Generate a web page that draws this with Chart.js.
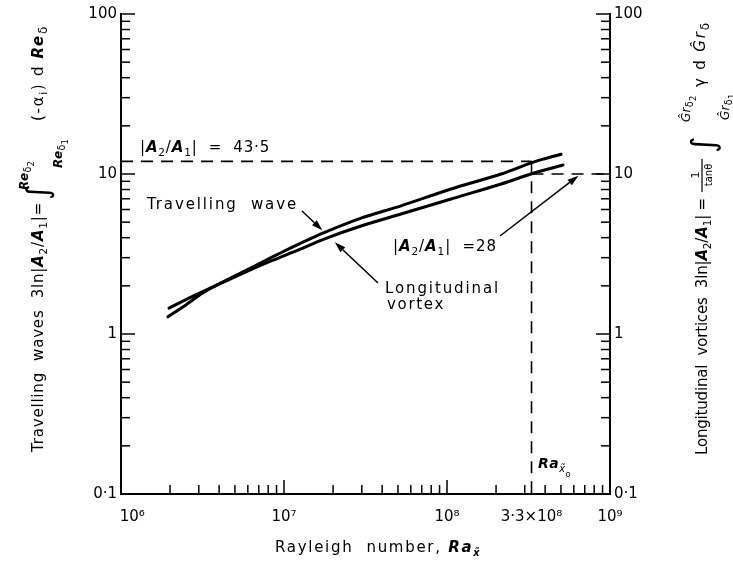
<!DOCTYPE html>
<html><head><meta charset="utf-8">
<script src="https://cdn.jsdelivr.net/npm/chart.js@4.4.1/dist/chart.umd.min.js"></script>
<style>html,body{margin:0;padding:0;background:#fff}canvas{display:block}</style>
</head><body>
<canvas id="c" width="733" height="567" style="width:733px;height:567px"></canvas>
<script>
// ---- data ----
const xTickValues = [1e6, 1e7, 1e8, 3.3e8, 1e9];
const xTickLabels = ['\u2002\u2002\u200210⁶', '10⁷', '10⁸', '3·3×10⁸', '10⁹'];
const yTickValues = [0.1, 1, 10, 100];
const yTickLabels = ['0·1', '1', '10', '100'];

const travellingX = [1.94e6, 2.50e6, 3.32e6, 5.45e6, 8.33e6, 1.10e7, 1.27e7, 1.76e7, 2.97e7, 5.22e7, 1.06e8, 2.15e8, 3.42e8, 5.01e8];
const travellingY = [1.28, 1.52, 1.86, 2.41, 3.00, 3.45, 3.70, 4.30, 5.30, 6.32, 8.06, 10.0, 11.9, 13.3];

const vortexX = [1.97e6, 2.69e6, 3.32e6, 5.45e6, 8.33e6, 1.10e7, 1.27e7, 1.76e7, 2.97e7, 5.22e7, 1.06e8, 2.15e8, 3.42e8, 5.15e8];
const vortexY = [1.45, 1.70, 1.88, 2.37, 2.86, 3.21, 3.40, 3.92, 4.73, 5.62, 6.98, 8.66, 10.15, 11.38];

const raX0 = 3.3e8;      // Ra_x0
const twLevel = 12;      // |A2/A1| = 43.5 level (as drawn)
const lvLevel = 10;      // |A2/A1| = 28 level
const xMin = 1e6, xMax = 1e9, yMin = 0.1, yMax = 100;

const F = '"DejaVu Sans", "Liberation Sans", sans-serif';

function pts(xs, ys) { return xs.map((x, i) => ({ x: x, y: ys[i] })); }

function measureRuns(ctx, list, size, sp) {
  let w = 0, n = 0;
  for (const r of list) {
    const s = (r.k || 1) * size;
    const st = r.bi ? 'italic bold ' : (r.i ? 'italic ' : '');
    ctx.font = st + s + 'px ' + F;
    ctx.letterSpacing = (r.ls !== undefined ? r.ls : sp) + 'px';
    w += ctx.measureText(r.t).width;
    n += [...r.t].length;
  }
  return { w, n };
}
function drawRuns(ctx, list, x, y, size, sp) {
  let cx = x;
  for (const r of list) {
    const s = (r.k || 1) * size;
    const st = r.bi ? 'italic bold ' : (r.i ? 'italic ' : '');
    ctx.font = st + s + 'px ' + F;
    ctx.letterSpacing = (r.ls !== undefined ? r.ls : sp) + 'px';
    ctx.fillText(r.t, cx, y + (r.dy || 0));
    cx += ctx.measureText(r.t).width;
  }
  ctx.letterSpacing = '0px';
  return cx - x;
}
function fitRuns(ctx, list, x, y, size, target) {
  ctx.letterSpacing = '0px';
  const m = measureRuns(ctx, list, size, 0);
  const sp = Math.max(-1, (target - m.w) / m.n);
  return drawRuns(ctx, list, x, y, size, sp);
}
function arrow(ctx, x1, y1, x2, y2) {
  const a = Math.atan2(y2 - y1, x2 - x1), L = 11, W = 3.5;
  ctx.beginPath(); ctx.moveTo(x1, y1);
  ctx.lineTo(x2 - L * Math.cos(a), y2 - L * Math.sin(a)); ctx.stroke();
  ctx.beginPath(); ctx.moveTo(x2, y2);
  ctx.lineTo(x2 - L * Math.cos(a) + W * Math.sin(a), y2 - L * Math.sin(a) - W * Math.cos(a));
  ctx.lineTo(x2 - L * Math.cos(a) - W * Math.sin(a), y2 - L * Math.sin(a) + W * Math.cos(a));
  ctx.closePath(); ctx.fill();
}

const decor = {
  id: 'decor',
  afterDraw(chart) {
    const ctx = chart.ctx;
    const xs = chart.scales.x, ys = chart.scales.y;
    const L = xs.left, R = xs.right, T = ys.top, B = ys.bottom;
    const X = v => xs.getPixelForValue(v), Y = v => ys.getPixelForValue(v);
    ctx.save();
    ctx.strokeStyle = '#000'; ctx.fillStyle = '#000';
    // frame (no top line)
    ctx.lineWidth = 2; ctx.lineCap = 'square';
    ctx.beginPath(); ctx.moveTo(L, T); ctx.lineTo(L, B); ctx.lineTo(R, B); ctx.lineTo(R, T); ctx.stroke();
    // inward log ticks
    ctx.lineWidth = 1.5; ctx.lineCap = 'butt';
    for (let e = 6; e <= 9; e++) for (let m = 1; m <= 9; m++) {
      const v = m * Math.pow(10, e); if (v > xMax * 1.0001) break;
      const p = X(v), len = m === 1 ? 14 : 9;
      ctx.beginPath(); ctx.moveTo(p, B); ctx.lineTo(p, B - len); ctx.stroke();
    }
    for (let e = -1; e <= 2; e++) for (let m = 1; m <= 9; m++) {
      const v = m * Math.pow(10, e); if (v > yMax * 1.0001) break;
      const p = Y(v), len = m === 1 ? 14 : 9;
      ctx.beginPath(); ctx.moveTo(L, p); ctx.lineTo(L + len, p); ctx.stroke();
      ctx.beginPath(); ctx.moveTo(R, p); ctx.lineTo(R - len, p); ctx.stroke();
    }

    ctx.textBaseline = 'alphabetic';
    // annotations
    fitRuns(ctx, [{ t: '|' }, { t: 'A', bi: 1 }, { t: '2', k: 0.7, dy: 4 }, { t: '/' }, { t: 'A', bi: 1 }, { t: '1', k: 0.7, dy: 4 }, { t: '|  =  43·5' }], 140, 152, 15, 130);
    fitRuns(ctx, [{ t: 'Travelling  wave' }], 147, 209, 15, 151);
    fitRuns(ctx, [{ t: 'Longitudinal' }], 385, 293, 15, 115);
    fitRuns(ctx, [{ t: 'vortex' }], 387, 309, 15, 58);
    fitRuns(ctx, [{ t: '|' }, { t: 'A', bi: 1 }, { t: '2', k: 0.7, dy: 4 }, { t: '/' }, { t: 'A', bi: 1 }, { t: '1', k: 0.7, dy: 4 }, { t: '|  =28' }], 393, 251, 15, 104);
    // Ra_x0 label
    drawRuns(ctx, [{ t: 'Ra', bi: 1 }, { t: 'x̃', i: 1, k: 0.7, dy: 4 }, { t: 'o', k: 0.6, dy: 9 }], 538, 468, 14, 0.5);

    // arrows
    ctx.lineWidth = 1.5;
    arrow(ctx, 302, 211, X(1.72e7), Y(4.45));
    arrow(ctx, 378, 283, X(2.05e7), Y(3.75));
    arrow(ctx, 500, 236, X(6.4e8), Y(9.75));

    // x title
    fitRuns(ctx, [{ t: 'Rayleigh  number, ' }, { t: 'Ra', bi: 1 }, { t: 'x̃', bi: 1, k: 0.65, dy: 4 }], 275, 552, 15, 208);

    // left title (rotated)
    ctx.save();
    ctx.translate(43, 452); ctx.rotate(-Math.PI / 2);
    fitRuns(ctx, [{ t: 'Travelling  waves  3ln|' }, { t: 'A', bi: 1 }, { t: '2', k: 0.7, dy: 4 }, { t: '/' }, { t: 'A', bi: 1 }, { t: '1', k: 0.7, dy: 4 }, { t: '|=' }], 0, 0, 15, 250);
    ctx.font = '30px ' + F; ctx.fillText('∫', 252, 5);
    drawRuns(ctx, [{ t: 'Re', bi: 1 }, { t: 'δ', k: 0.8, dy: 3 }, { t: '2', k: 0.7, dy: 6 }], 262, -15, 12, 0.3);
    drawRuns(ctx, [{ t: 'Re', bi: 1 }, { t: 'δ', k: 0.8, dy: 3 }, { t: '1', k: 0.7, dy: 6 }], 284, 19, 12, 0.3);
    fitRuns(ctx, [{ t: '(-α' }, { t: 'i', k: 0.7, dy: 4 }, { t: ') d ' }, { t: 'Re', bi: 1 }, { t: 'δ', k: 0.8, dy: 4 }], 331, 0, 15, 96);
    ctx.restore();

    // right title (rotated)
    ctx.save();
    ctx.translate(707, 455); ctx.rotate(-Math.PI / 2);
    fitRuns(ctx, [{ t: 'Longitudinal  vortices  3ln|' }, { t: 'A', bi: 1 }, { t: '2', k: 0.7, dy: 4 }, { t: '/' }, { t: 'A', bi: 1 }, { t: '1', k: 0.7, dy: 4 }, { t: '| =' }], 0, 0, 15, 257);
    // fraction 1/tanθ
    ctx.lineWidth = 1.2;
    ctx.beginPath(); ctx.moveTo(263, -5); ctx.lineTo(296, -5); ctx.stroke();
    ctx.font = '11px ' + F; ctx.textAlign = 'center';
    ctx.fillText('1', 280, -8);
    ctx.font = '10px ' + F; ctx.fillText('tanθ', 280, 5);
    ctx.textAlign = 'left';
    ctx.font = '32px ' + F; ctx.fillText('∫', 302, 7);
    drawRuns(ctx, [{ t: 'Ĝr', i: 1 }, { t: 'δ', k: 0.8, dy: 3 }, { t: '2', k: 0.7, dy: 6 }], 333, -17, 12, 0.3);
    drawRuns(ctx, [{ t: 'Ĝr', i: 1 }, { t: 'δ', k: 0.8, dy: 3 }, { t: '1', k: 0.7, dy: 6 }], 335, 22, 12, 0.3);
    fitRuns(ctx, [{ t: 'γ d ' }, { t: 'Ĝr', i: 1 }, { t: 'δ', k: 0.8, dy: 4 }], 368, -2, 15, 66);
    ctx.restore();

    ctx.restore();
  }
};

const tickFont = { family: F, size: 15 };
new Chart(document.getElementById('c'), {
  type: 'line',
  data: {
    datasets: [
      { label: 'Travelling wave', data: pts(travellingX, travellingY), borderColor: '#000', borderWidth: 3, pointRadius: 0, tension: 0.3, borderCapStyle: 'round' },
      { label: 'Longitudinal vortex', data: pts(vortexX, vortexY), borderColor: '#000', borderWidth: 3, pointRadius: 0, tension: 0.3, borderCapStyle: 'round' },
      { label: 'A43', data: [{ x: xMin, y: twLevel }, { x: raX0, y: twLevel }], borderColor: '#000', borderWidth: 1.6, borderDash: [12, 8], pointRadius: 0 },
      { label: 'Rax0', data: [{ x: raX0, y: twLevel }, { x: raX0, y: yMin }], borderColor: '#000', borderWidth: 1.6, borderDash: [12, 8], pointRadius: 0 },
      { label: 'A28', data: [{ x: raX0, y: lvLevel }, { x: xMax, y: lvLevel }], borderColor: '#000', borderWidth: 1.6, borderDash: [12, 8], pointRadius: 0 }
    ]
  },
  options: {
    responsive: false, animation: false, events: [],
    layout: { padding: { top: 14, left: 0, right: 0, bottom: 0 } },
    plugins: { legend: { display: false }, tooltip: { enabled: false } },
    scales: {
      x: {
        type: 'logarithmic', min: xMin, max: xMax,
        grid: { display: false, drawTicks: false }, border: { display: false },
        afterBuildTicks: s => { s.ticks = xTickValues.map(v => ({ value: v })); },
        afterFit: s => { s.height = 73; },
        ticks: { autoSkip: false, maxRotation: 0, padding: 14, font: tickFont, color: '#000', callback: (v, i) => xTickLabels[i] }
      },
      y: {
        type: 'logarithmic', position: 'left', min: yMin, max: yMax,
        grid: { display: false, drawTicks: false }, border: { display: false },
        afterBuildTicks: s => { s.ticks = yTickValues.map(v => ({ value: v })); },
        afterFit: s => { s.width = 121; },
        ticks: { autoSkip: false, padding: 4, font: tickFont, color: '#000', callback: (v, i) => yTickLabels[i] }
      },
      y2: {
        type: 'logarithmic', position: 'right', min: yMin, max: yMax,
        grid: { display: false, drawTicks: false }, border: { display: false },
        afterBuildTicks: s => { s.ticks = yTickValues.map(v => ({ value: v })); },
        afterFit: s => { s.width = 123; },
        ticks: { autoSkip: false, padding: 4, font: tickFont, color: '#000', callback: (v, i) => yTickLabels[i] }
      }
    }
  },
  plugins: [decor]
});
</script>
</body></html>
